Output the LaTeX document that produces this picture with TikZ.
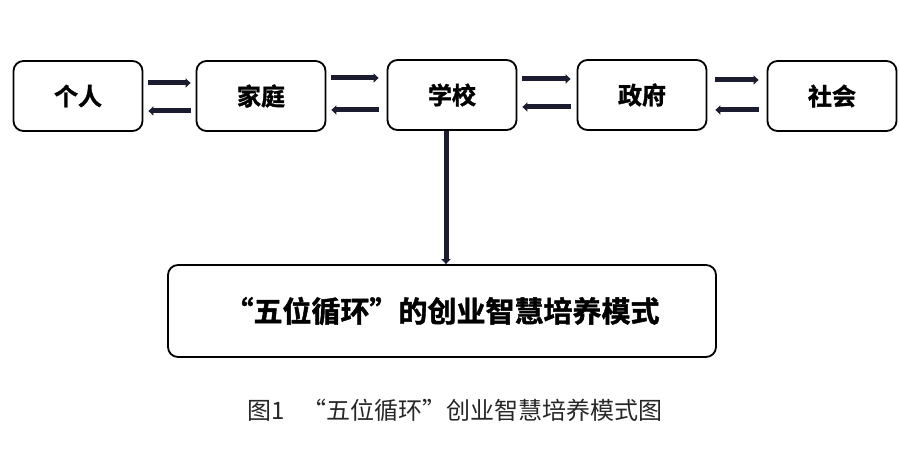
\documentclass[tikz,border=0pt]{standalone}
\usepackage{fontspec}
\setmainfont{Noto Sans CJK SC}
\newfontfamily\cjkbold[FakeBold=1.5]{Noto Sans CJK SC Bold}
\usetikzlibrary{arrows.meta}
\definecolor{arrowcol}{HTML}{1C1C30}
\tikzset{
  box/.style={draw,line width=1.8pt,rounded corners=10pt,minimum width=129pt,minimum height=70pt,font=\cjkbold\fontsize{24}{28}\selectfont},
  link/.style={line width=5pt,draw=arrowcol,-{Triangle[length=5pt,width=9pt]}}
}
\begin{document}
\begin{tikzpicture}[x=1pt,y=-1pt]
  \useasboundingbox (0,0) rectangle (900,473);
  \node[box] (geren) at (78,96){个人};
  \node[box] (jiating) at (261,96){家庭};
  \node[box] (xuexiao) at (452,95){学校};
  \node[box] (zhengfu) at (642,95){政府};
  \node[box] (shehui) at (832,96){社会};
  \node[box,minimum width=548pt,minimum height=92pt,font=\cjkbold\fontsize{29}{34}\selectfont] (moshi) at (442,311){“五位循环”的创业智慧培养模式};
  % arrows between the five
  \draw[link] ([xshift=5pt,yshift=13pt]geren.east)--([xshift=-5pt,yshift=13pt]jiating.west);
  \draw[link] ([xshift=-5pt,yshift=-15pt]jiating.west)--([xshift=5pt,yshift=-15pt]geren.east);
  \draw[link] ([xshift=5pt,yshift=18pt]jiating.east)--([xshift=-8pt,yshift=17pt]xuexiao.west);
  \draw[link] ([xshift=-8pt,yshift=-15pt]xuexiao.west)--([xshift=5pt,yshift=-14pt]jiating.east);
  \draw[link] ([xshift=5pt,yshift=16pt]xuexiao.east)--([xshift=-6pt,yshift=16pt]zhengfu.west);
  \draw[link] ([xshift=-6pt,yshift=-12pt]zhengfu.west)--([xshift=5pt,yshift=-12pt]xuexiao.east);
  \draw[link] ([xshift=8pt,yshift=15pt]zhengfu.east)--([xshift=-8pt,yshift=16pt]shehui.west);
  \draw[link] ([xshift=-8pt,yshift=-14pt]shehui.west)--([xshift=8pt,yshift=-15pt]zhengfu.east);
  \draw[link] ([xshift=-6pt]xuexiao.south)--([xshift=4pt]moshi.north);
  \node[font=\fontsize{24}{28}\selectfont,text=black!85] (tuming) at (455,410){图1\hspace{0.7em}“五位循环”创业智慧培养模式图};
\end{tikzpicture}
\end{document}
